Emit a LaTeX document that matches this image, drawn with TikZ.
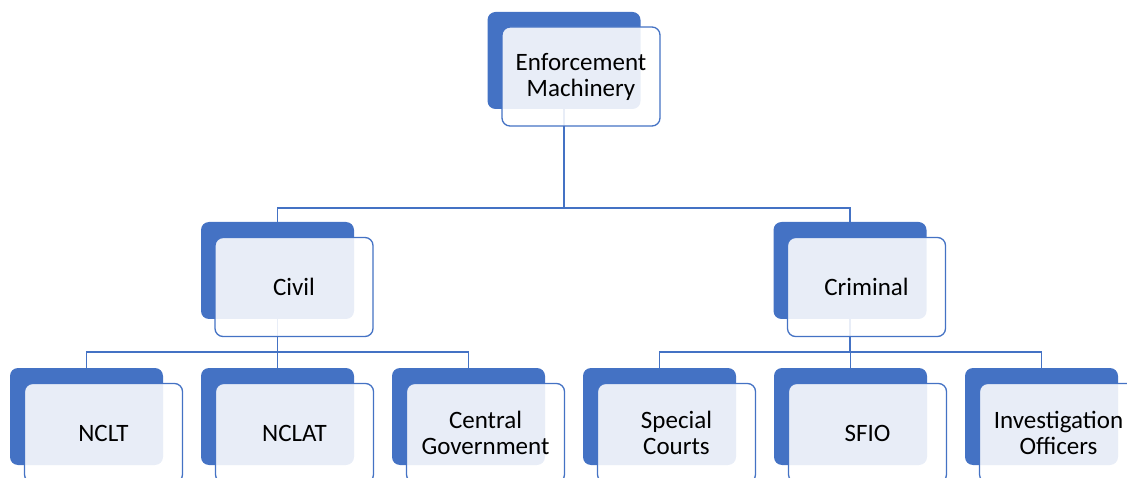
\documentclass[tikz,border=0pt]{standalone}
\usepackage{fontspec}
\setmainfont{Carlito}
\definecolor{sablue}{HTML}{4472C4}
\tikzset{
  backbox/.style={rectangle, rounded corners=8pt, fill=sablue, draw=none,
    minimum width=153pt, minimum height=97pt, inner sep=0pt},
  frontbox/.style={rectangle, rounded corners=8pt, draw=sablue, line width=1.3pt,
    fill=white, fill opacity=0.88, text opacity=1, text=black,
    minimum width=158pt, minimum height=99pt, inner sep=0pt,
    align=center, font=\fontsize{25}{26}\selectfont},
  conn/.style={draw=sablue, line width=1.3pt}
}
\begin{document}
\begin{tikzpicture}[x=1pt,y=-1pt]
\useasboundingbox (0,0) rectangle (1127,478);
\clip (0,0) rectangle (1127,478);
% back boxes
\node[backbox] (btop) at (564,60.5) {};
\node[backbox] (bciv) at (277.5,270.5) {};
\node[backbox] (bcrim) at (850,270.5) {};
\node[backbox] (bnclt) at (86.5,416.5) {};
\node[backbox] (bnclat) at (277.5,416.5) {};
\node[backbox] (bcg) at (468.5,416.5) {};
\node[backbox] (bsc) at (659.5,416.5) {};
\node[backbox] (bsfio) at (850.5,416.5) {};
\node[backbox] (bio) at (1041.5,416.5) {};
% junctions
\coordinate (j1) at (564,208);
\coordinate (j2) at (277.5,352);
\coordinate (j3) at (850,352);
% connectors
\draw[conn] (btop.south) -- (j1);
\draw[conn] (j1) -| (bciv.north);
\draw[conn] (j1) -| (bcrim.north);
\draw[conn] (bciv.south) -- (j2);
\draw[conn] (j2) -| (bnclt.north);
\draw[conn] (j2) -| (bnclat.north);
\draw[conn] (j2) -| (bcg.north);
\draw[conn] (bcrim.south) -- (j3);
\draw[conn] (j3) -| (bsc.north);
\draw[conn] (j3) -| (bsfio.north);
\draw[conn] (j3) -| (bio.north);
% front boxes
\node[frontbox] (ftop) at (581,76.5) {Enforcement\\Machinery};
\node[frontbox] (fciv) at (294,287) {Civil};
\node[frontbox] (fcrim) at (866.5,287) {Criminal};
\node[frontbox] (fnclt) at (103.5,433) {NCLT};
\node[frontbox] (fnclat) at (294.5,433) {NCLAT};
\node[frontbox] (fcg) at (485.5,433) {Central\\Government};
\node[frontbox] (fsc) at (676.5,433) {Special\\Courts};
\node[frontbox] (fsfio) at (867.5,433) {SFIO};
\node[frontbox] (fio) at (1058.5,433) {Investigation\\Officers};
\end{tikzpicture}
\end{document}
